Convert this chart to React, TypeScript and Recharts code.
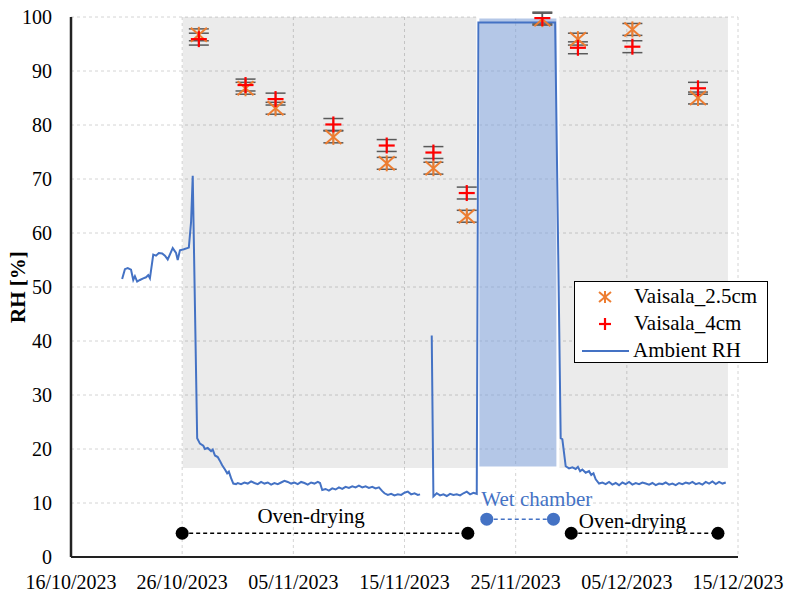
import React from 'react';
import {
  ComposedChart, Line, Scatter, ErrorBar, XAxis, YAxis, CartesianGrid,
  ReferenceArea, ReferenceDot, Legend,
} from 'recharts';

// days since 16/10/2023
const xTicks = [0, 10, 20, 30, 40, 50, 60];
const yTicks = [0, 10, 20, 30, 40, 50, 60, 70, 80, 90, 100];

const measureDays = [11.5, 15.7, 18.4, 23.6, 28.4, 32.6, 35.6, 42.4, 45.6, 50.5, 56.4];
const vaisala25 = [96.7, 86.8, 83.1, 77.8, 72.9, 72.0, 63.1, 99.6, 95.9, 97.7, 85.0];
const vaisala4 = [95.9, 87.4, 84.8, 80.1, 76.2, 74.9, 67.4, 99.8, 94.3, 94.5, 86.8];
const vaisalaErr = [1.1, 1.1, 1.1, 1.1, 1.1, 1.1, 1.1, 1.1, 1.1, 1.1, 1.1];

const ambientRH: [number, number | null][] = [
  [4.6, 51.5], [4.85, 53.3], [5.1, 53.5], [5.4, 53.2], [5.6, 51.3], [5.75, 52.0], [5.95, 51.0],
  [6.2, 51.3], [6.5, 51.6], [6.75, 51.8], [6.95, 52.2], [7.1, 51.6], [7.4, 56.0], [7.65, 55.8],
  [7.9, 56.3], [8.2, 56.2], [8.45, 55.8], [8.7, 55.1], [9.0, 56.5], [9.15, 57.2], [9.45, 56.3],
  [9.6, 55.0], [9.8, 56.8], [10.15, 57.0], [10.6, 57.3], [10.8, 62], [10.95, 70.6],
  [11.35, 22.0], [11.6, 21.0], [11.9, 20.6], [12.05, 20.0], [12.3, 20.2], [12.6, 19.6], [12.75, 19.9],
  [12.95, 18.8], [13.2, 18.5], [13.4, 17.8], [13.6, 17.0], [13.85, 16.2], [14.05, 15.5], [14.2, 15.8],
  [14.4, 14.6], [14.6, 13.6], [14.85, 13.5],
  [15.0, 13.7], [15.3, 13.5], [15.6, 13.8], [15.9, 13.6], [16.2, 14.0], [16.5, 13.7], [16.8, 13.5],
  [17.1, 13.9], [17.4, 13.6], [17.7, 13.8], [18.0, 13.4], [18.3, 13.7], [18.6, 13.5], [18.9, 13.8],
  [19.2, 14.1], [19.5, 13.9], [19.8, 13.6], [20.1, 13.8], [20.4, 13.5], [20.7, 13.9], [21.0, 13.7],
  [21.3, 13.4], [21.6, 13.8], [21.9, 13.6], [22.2, 13.9], [22.4, 13.7],
  [22.6, 12.4], [22.9, 12.6], [23.2, 12.3], [23.5, 12.7], [23.8, 12.5], [24.1, 12.9], [24.4, 12.6],
  [24.7, 13.0], [25.0, 12.8], [25.3, 13.1], [25.6, 12.9], [25.9, 13.2], [26.2, 12.9], [26.5, 13.1],
  [26.8, 12.8], [27.1, 13.0], [27.4, 12.7], [27.7, 12.9],
  [28.0, 12.2], [28.2, 11.8], [28.5, 11.5], [28.8, 11.7], [29.1, 11.4], [29.4, 11.6], [29.7, 11.5],
  [30.0, 11.9], [30.3, 12.1], [30.6, 11.6], [30.9, 11.8], [31.2, 11.5], [31.4, 11.6],
  [31.9, null],
  [32.45, 41.0], [32.6, 11.2], [32.9, 11.8], [33.2, 11.4], [33.5, 11.6], [33.8, 11.3], [34.1, 11.7],
  [34.4, 11.5], [34.7, 11.6], [35.0, 11.4], [35.3, 11.8], [35.6, 12.1], [35.9, 11.6], [36.2, 11.9],
  [36.5, 11.7],
  [36.65, 99.0], [43.55, 99.0],
  [44.05, 22.0], [44.2, 21.8], [44.5, 16.8], [44.8, 16.4], [45.1, 16.6], [45.4, 16.3], [45.6, 16.7],
  [45.8, 15.9], [46.0, 16.2], [46.3, 15.6], [46.6, 15.9], [46.8, 15.2], [47.0, 15.5], [47.2, 14.4],
  [47.5, 13.6], [47.8, 13.8], [48.1, 13.5], [48.4, 13.9], [48.7, 13.4], [49.0, 13.7], [49.3, 13.3],
  [49.6, 13.8], [49.9, 13.5], [50.2, 13.9], [50.5, 13.4], [50.8, 13.7], [51.1, 13.5], [51.4, 13.8],
  [51.7, 13.6], [52.0, 13.4], [52.3, 13.7], [52.6, 13.3], [52.9, 13.6], [53.2, 13.5], [53.5, 13.8],
  [53.8, 13.4], [54.1, 13.6], [54.4, 13.3], [54.7, 13.7], [55.0, 13.5], [55.3, 13.8], [55.6, 13.6],
  [55.9, 13.9], [56.2, 13.5], [56.5, 13.7], [56.8, 13.4], [57.1, 13.9], [57.4, 13.6], [57.7, 14.0],
  [58.0, 13.5], [58.3, 13.9], [58.6, 13.6], [58.9, 13.8],
];

const ovenDrying1: [number, number][] = [[10, 4.4], [35.7, 4.4]];
const wetChamber: [number, number][] = [[37.4, 7.0], [43.4, 7.0]];
const ovenDrying2: [number, number][] = [[45.0, 4.4], [58.2, 4.4]];

// shaded periods: [x1, x2, y1, y2]
const testPeriod = [10.05, 59.1, 16.5, 100];
const wetPeriod = [36.6, 43.8, 16.5, 100];

const FONT = '"Liberation Serif", "Times New Roman", serif';
const BASE = Date.UTC(2023, 9, 16);

const fmtDate = (d: number) => {
  const t = new Date(BASE + d * 86400000);
  const dd = String(t.getUTCDate()).padStart(2, '0');
  const mm = String(t.getUTCMonth() + 1).padStart(2, '0');
  return `${dd}/${mm}/${t.getUTCFullYear()}`;
};

const lineData = ambientRH.map(([x, y]) => ({ x, y }));
const s25 = measureDays.map((x, i) => ({ x, y: vaisala25[i], e: vaisalaErr[i] }));
const s4 = measureDays.map((x, i) => ({ x, y: vaisala4[i], e: vaisalaErr[i] }));
const toPts = (a: [number, number][]) => a.map(([x, y]) => ({ x, y }));

const Asterisk = (p: any) => {
  const { cx, cy } = p;
  const s = p.half ?? 8;
  return (
    <g stroke="#ed7d31" strokeWidth={2}>
      <line x1={cx - s} y1={cy - s + 1} x2={cx + s} y2={cy + s - 1} />
      <line x1={cx - s} y1={cy + s - 1} x2={cx + s} y2={cy - s + 1} />
      <line x1={cx} y1={cy - s} x2={cx} y2={cy + s} />
    </g>
  );
};

const Plus = (p: any) => {
  const { cx, cy } = p;
  const s = p.half ?? 8;
  return (
    <g stroke="#ff0000" strokeWidth={2.2}>
      <line x1={cx - s} y1={cy} x2={cx + s} y2={cy} />
      <line x1={cx} y1={cy - s} x2={cx} y2={cy + s} />
    </g>
  );
};

const dotShape = (fill: string) => (p: any) => <circle cx={p.cx} cy={p.cy} r={6.5} fill={fill} />;

const LegendBox = () => {
  const row: React.CSSProperties = { display: 'flex', alignItems: 'center', height: 27 };
  const txt: React.CSSProperties = { fontFamily: FONT, fontSize: 21, color: '#000', marginLeft: 4 };
  return (
    <div style={{ border: '1px solid #000', background: '#fff', width: 192, height: 78, padding: '1px 0', boxSizing: 'content-box' }}>
      <div style={row}>
        <svg width={55} height={20}>
          <Asterisk cx={30} cy={10} half={6} />
        </svg>
        <span style={txt}>Vaisala_2.5cm</span>
      </div>
      <div style={row}>
        <svg width={55} height={20}>
          <Plus cx={30} cy={10} half={6} />
        </svg>
        <span style={txt}>Vaisala_4cm</span>
      </div>
      <div style={row}>
        <svg width={55} height={20}>
          <line x1={7} y1={10} x2={54} y2={10} stroke="#4472c4" strokeWidth={2} />
        </svg>
        <span style={{ ...txt, marginLeft: 3 }}>Ambient RH</span>
      </div>
    </div>
  );
};

const YLabel = (props: any) => {
  const vb = props.viewBox;
  const x = vb.x + 18;
  const y = vb.y + vb.height / 2;
  return (
    <text x={x} y={y} transform={`rotate(-90 ${x} ${y})`} textAnchor="middle" dominantBaseline="central"
      fontFamily={FONT} fontSize={21} fontWeight="bold" fill="#000">
      RH [%]
    </text>
  );
};

const phaseLabel = (value: string, fill: string) => ({
  value, position: 'center' as const, fill, fontFamily: FONT, fontSize: 21,
});

export default function App() {
  return (
    <div style={{ position: 'absolute', left: 0, top: 0, background: '#fff' }}>
      <ComposedChart width={793} height={598} margin={{ top: 17, right: 55, bottom: 0, left: 0 }}>
        <ReferenceArea x1={testPeriod[0]} x2={testPeriod[1]} y1={testPeriod[2]} y2={testPeriod[3]}
          fill="#000" fillOpacity={0.08} stroke="none" />
        <ReferenceArea x1={wetPeriod[0]} x2={wetPeriod[1]} y1={wetPeriod[2]} y2={wetPeriod[3]}
          fill="#7da3e3" fillOpacity={0.5} stroke="#fff" strokeWidth={3} />
        <CartesianGrid strokeDasharray="3 3" stroke="#d4d4d4" />
        <XAxis dataKey="x" type="number" domain={[0, 60]} ticks={xTicks} allowDataOverflow
          tickFormatter={fmtDate} height={41} tickSize={0} tickMargin={18} interval={0}
          axisLine={{ stroke: '#222', strokeWidth: 2 }} tickLine={false}
          tick={{ fontFamily: FONT, fontSize: 20, fill: '#000' }} />
        <YAxis dataKey="y" type="number" domain={[0, 100]} ticks={yTicks} allowDataOverflow
          width={71} tickSize={0} tickMargin={19} interval={0}
          axisLine={{ stroke: '#222', strokeWidth: 2.5 }} tickLine={false}
          tick={{ fontFamily: FONT, fontSize: 20, fill: '#000' }}
          label={<YLabel />} />
        <Line data={lineData} dataKey="y" type="linear" stroke="#4472c4" strokeWidth={2}
          dot={false} connectNulls={false} isAnimationActive={false} name="Ambient RH" />
        <Scatter data={s25} shape={<Asterisk />} isAnimationActive={false} name="Vaisala_2.5cm">
          <ErrorBar dataKey="e" direction="y" width={10} stroke="#595959" strokeWidth={1.5} />
        </Scatter>
        <Scatter data={s4} shape={<Plus />} isAnimationActive={false} name="Vaisala_4cm">
          <ErrorBar dataKey="e" direction="y" width={10} stroke="#595959" strokeWidth={1.5} />
        </Scatter>
        <Scatter data={toPts(ovenDrying1)} shape={dotShape('#000')} isAnimationActive={false}
          line={{ stroke: '#000', strokeWidth: 1.5, strokeDasharray: '4 3' }} legendType="none" />
        <Scatter data={toPts(wetChamber)} shape={dotShape('#4472c4')} isAnimationActive={false}
          line={{ stroke: '#4472c4', strokeWidth: 1.5, strokeDasharray: '4 3' }} legendType="none" />
        <Scatter data={toPts(ovenDrying2)} shape={dotShape('#000')} isAnimationActive={false}
          line={{ stroke: '#000', strokeWidth: 1.5, strokeDasharray: '4 3' }} legendType="none" />
        <ReferenceDot x={21.6} y={7.6} r={0} stroke="none" fill="none" label={phaseLabel('Oven-drying', '#000')} />
        <ReferenceDot x={41.9} y={10.9} r={0} stroke="none" fill="none" label={phaseLabel('Wet chamber', '#4472c4')} />
        <ReferenceDot x={50.5} y={6.7} r={0} stroke="none" fill="none" label={phaseLabel('Oven-drying', '#000')} />
        <Legend verticalAlign="middle" layout="horizontal" align="center" content={<LegendBox />}
          wrapperStyle={{ left: 574, top: 281, width: 194, height: 80, right: 'auto', bottom: 'auto' }} />
      </ComposedChart>
    </div>
  );
}
